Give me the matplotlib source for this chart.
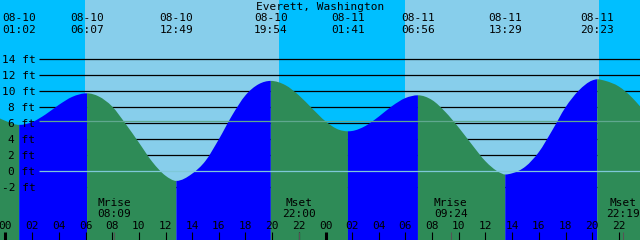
import numpy as np
import matplotlib
matplotlib.use('Agg')
import matplotlib.pyplot as plt
import matplotlib.transforms as mtransforms
from matplotlib.path import Path
from matplotlib.patches import PathPatch

plt.rcParams['font.family'] = ['DejaVu Sans Mono']

# Data: hours counted from 08-10 00:00
title = 'Everett, Washington'

# tide extremes (day offset, time, height in ft)
ext_days = [0, 0, 0, 0, 1, 1, 1, 1]
ext_dates = ['08-10', '08-10', '08-10', '08-10', '08-11', '08-11', '08-11', '08-11']
ext_times = ['01:02', '06:07', '12:49', '19:54', '01:41', '06:56', '13:29', '20:23']
ext_ft = [5.8, 9.75, -1.2, 11.3, 5.0, 9.5, -0.4, 11.5]

# tide curve read off roughly hourly (between the extremes)
curve_hours = [-0.42, 0, 2, 3, 4, 5, 7, 8, 9, 10, 11, 12, 14, 15, 16, 17, 18, 19,
               21, 22, 23, 24, 25, 26, 27, 28, 29, 30, 32, 33, 34, 35, 36, 37,
               38, 39, 40, 41, 42, 43, 44, 45, 46, 47, 47.6]
curve_ft = [6.6, 6.3, 6.15, 7.1, 8.3, 9.3, 9.35, 8.1, 5.95, 3.6, 1.2, -0.55, -0.3,
            1.3, 4.0, 7.0, 9.5, 10.9, 10.76, 9.5, 7.85, 6.25, 5.2, 5.04, 5.67, 6.84,
            8.16, 9.16, 8.9, 7.4, 5.45, 3.3, 1.25, -0.1, -0.25, 0.6, 2.4, 5.1, 8.0,
            10.1, 11.35, 11.3, 10.6, 9.2, 8.1]

# sun (for the sky band)
sun_days = [0, 0, 1, 1]
sun_events = ['05:58', '20:31', '05:59', '20:29']

# moon
moon_days = [0, 0, 1, 1]
moon_names = ['Mrise', 'Mset', 'Mrise', 'Mset']
moon_times = ['08:09', '22:00', '09:24', '22:19']

grid_ft = [-2, 0, 2, 4, 6, 8, 10, 12, 14]
msl_ft = 6.3
hour_ticks = list(range(0, 49, 2))


def to_hours(day, hhmm):
    hh, mm = hhmm.split(':')
    return day * 24 + int(hh) + int(mm) / 60


ext_hours = [to_hours(d, tm) for d, tm in zip(ext_days, ext_times)]
sun_hours = [to_hours(d, tm) for d, tm in zip(sun_days, sun_events)]
moon_hours = [to_hours(d, tm) for d, tm in zip(moon_days, moon_times)]

t = np.array(curve_hours + ext_hours)
h = np.array(curve_ft + ext_ft)
is_ext = np.array([False] * len(curve_hours) + [True] * len(ext_hours))
order = np.argsort(t)
t, h, is_ext = t[order], h[order], is_ext[order]

# slopes for a smooth drawn curve (flat at highs and lows)
slope = np.gradient(h, t)
slope[is_ext] = 0.0

# layout: 640x240 px, 13.333 px per hour, 8 px per ft
X0 = -5.5 / (640 / 48)
X1 = X0 + 48
Y_TOP = 171.3 / 8
Y_BOT = Y_TOP - 240 / 8


def py(ypix):
    return Y_TOP - ypix / 8


fig = plt.figure(figsize=(6.4, 2.4), dpi=100)
ax = fig.add_axes([0, 0, 1, 1])
ax.set_xlim(X0, X1)
ax.set_ylim(Y_BOT, Y_TOP)
ax.axis('off')

# sky
day_col, night_col = '#87CEEB', '#00BFFF'
edges = [t[0]] + sun_hours + [t[-1]]
for i in range(len(edges) - 1):
    ax.axvspan(edges[i], edges[i + 1], color=night_col if i % 2 == 0 else day_col,
               lw=0, zorder=0)

# grid lines (under the water)
x_grid = X0 + 39 / (640 / 48)
for g in grid_ft:
    if g != 0:
        ax.hlines(g, x_grid, X1, color='black', lw=0.9, zorder=1)

# tide fill: blue rising, green falling
cut = [0] + list(np.where(is_ext)[0]) + [len(t) - 1]
for a, b in zip(cut[:-1], cut[1:]):
    verts = [(t[a], Y_BOT), (t[a], h[a])]
    codes = [Path.MOVETO, Path.LINETO]
    for i in range(a, b):
        dt = t[i + 1] - t[i]
        verts += [(t[i] + dt / 3, h[i] + slope[i] * dt / 3),
                  (t[i + 1] - dt / 3, h[i + 1] - slope[i + 1] * dt / 3),
                  (t[i + 1], h[i + 1])]
        codes += [Path.CURVE4] * 3
    verts += [(t[b], Y_BOT), (t[a], Y_BOT)]
    codes += [Path.LINETO, Path.CLOSEPOLY]
    col = '#0000FF' if h[b] > h[a] else '#2E8B57'
    ax.add_patch(PathPatch(Path(verts, codes), facecolor=col, lw=0, zorder=2))

# datum and mean sea level
ax.hlines(0, x_grid, X1, color='#7EC8D8', lw=0.9, zorder=3)
ax.hlines(msl_ft, x_grid, X1, color='#5FA88F', lw=0.9, zorder=3)

fs = 8
axfrac = mtransforms.blended_transform_factory(ax.transAxes, ax.transData)

ax.text(0.5, py(9.7), title, transform=axfrac, ha='center', va='baseline',
        fontsize=fs, zorder=5)
for x, d, tm in zip(ext_hours, ext_dates, ext_times):
    ax.text(x, py(20.7), d, ha='center', va='baseline', fontsize=fs, zorder=5)
    ax.text(x, py(33.0), tm, ha='center', va='baseline', fontsize=fs, zorder=5)

for g in grid_ft:
    ax.text(35.5 / 640, g - 0.46, f'{g} ft', transform=axfrac, ha='right',
            va='baseline', fontsize=fs, zorder=5)

for x, n, tm in zip(moon_hours, moon_names, moon_times):
    ax.text(x, py(206), n, ha='center', va='baseline', fontsize=fs, zorder=5)
    ax.text(x, py(217.3), tm, ha='center', va='baseline', fontsize=fs, zorder=5)

for hr in hour_ticks:
    ax.text(hr, py(229.3), f'{hr % 24:02d}', ha='center', va='baseline',
            fontsize=fs, zorder=5)
    lw = 2.2 if hr % 24 == 0 else 0.8
    ax.vlines(hr, Y_BOT, py(232), color='black', lw=lw, zorder=5)

ax.vlines(moon_hours, Y_BOT, py(232), color='#555555', lw=0.8, zorder=6)

fig.savefig('out.png', dpi=100)
